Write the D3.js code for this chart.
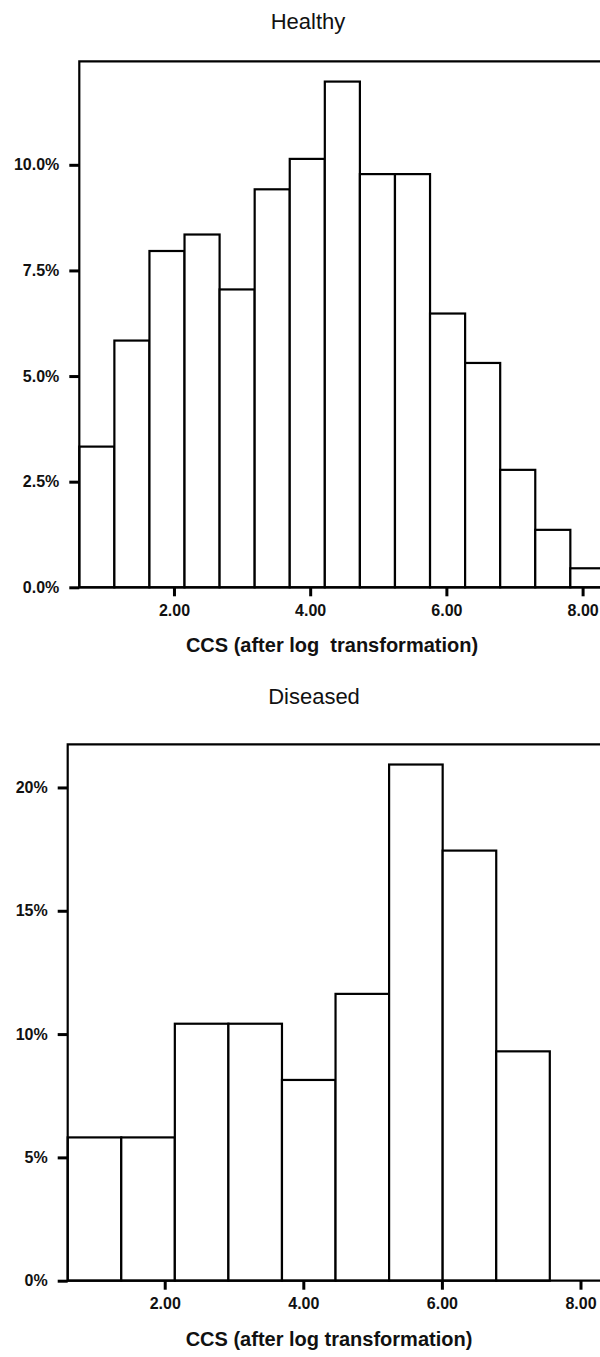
<!DOCTYPE html>
<html>
<head>
<meta charset="utf-8">
<script src="https://cdn.jsdelivr.net/npm/d3@7"></script>
<style>
  body { margin: 0; background: #fff; }
  svg { display: block; font-family: "Liberation Sans", Arial, sans-serif; }
  .tick text { font-size: 16px; font-weight: bold; fill: #111; }
  .tick line { stroke: #000; stroke-width: 3; }
  .title { font-size: 22px; fill: #111; }
  .xlabel { font-size: 20px; font-weight: bold; fill: #111; white-space: pre; }
</style>
</head>
<body>
<div id="chart"></div>
<script>
// bin edges (CCS after log transform) and percentage per bin
var healthyEdges = [0.61, 1.125, 1.64, 2.155, 2.67, 3.185, 3.70, 4.215, 4.73, 5.245, 5.76, 6.275, 6.79, 7.305, 7.82, 8.335];
var healthyPct = [3.33, 5.84, 7.96, 8.35, 7.05, 9.42, 10.14, 11.97, 9.78, 9.78, 6.48, 5.31, 2.78, 1.36, 0.45];
var healthyYTicks = [0, 2.5, 5, 7.5, 10];

var diseasedEdges = [0.60, 1.373, 2.146, 2.919, 3.692, 4.465, 5.238, 6.011, 6.784, 7.557];
var diseasedPct = [5.81, 5.81, 10.42, 10.42, 8.14, 11.63, 20.93, 17.44, 9.30];
var diseasedYTicks = [0, 5, 10, 15, 20];

var xTicks = [2, 4, 6, 8];

function drawHist(svg, o) {
    'use strict';
    var x = d3.scaleLinear().domain([o.edges[0], 8]).range([o.left, o.x8]);
    var y = d3.scaleLinear().domain([0, o.yMax]).range([o.bottom, o.top]);
    var right = 640;
    var g = svg.append('g');

    var bins = o.pct.map(function (v, i) {
        return { x0: o.edges[i], x1: o.edges[i + 1], v: v };
    });

    g.selectAll('rect.bar')
        .data(bins)
        .enter()
        .append('rect')
        .attr('class', 'bar')
        .attr('x', function (d) { return x(d.x0); })
        .attr('width', function (d) { return x(d.x1) - x(d.x0); })
        .attr('y', function (d) { return y(d.v); })
        .attr('height', function (d) { return y(0) - y(d.v); })
        .attr('fill', '#fff')
        .attr('stroke', '#000')
        .attr('stroke-width', 2.2);

    // frame: left side, top, and baseline
    g.append('path')
        .attr('d', 'M' + right + ',' + o.top + 'H' + o.left + 'V' + o.bottom + 'H' + right)
        .attr('fill', 'none')
        .attr('stroke', '#000')
        .attr('stroke-width', 2.2);

    var yAxis = d3.axisLeft(y)
        .tickValues(o.yTicks)
        .tickSize(10)
        .tickPadding(10)
        .tickFormat(o.yFmt);
    g.append('g')
        .attr('transform', 'translate(' + o.left + ',0)')
        .call(yAxis)
        .call(function (s) { s.select('.domain').remove(); });

    var xAxis = d3.axisBottom(x)
        .tickValues(xTicks)
        .tickSize(9)
        .tickPadding(8)
        .tickFormat(d3.format('.2f'));
    g.append('g')
        .attr('transform', 'translate(0,' + o.bottom + ')')
        .call(xAxis)
        .call(function (s) { s.select('.domain').remove(); });

    svg.append('text')
        .attr('class', 'title')
        .attr('x', o.titleX)
        .attr('y', o.titleY)
        .attr('text-anchor', 'middle')
        .text(o.title);

    svg.append('text')
        .attr('class', 'xlabel')
        .attr('x', o.labelX)
        .attr('y', o.labelY)
        .attr('text-anchor', 'middle')
        .text(o.xLabel);
}

function init() {
    'use strict';
    var svg = d3.select('#chart')
        .append('svg')
        .attr('width', 600)
        .attr('height', 1357);

    drawHist(svg, {
        edges: healthyEdges, pct: healthyPct, yTicks: healthyYTicks,
        yFmt: function (d) { return d3.format('.1f')(d) + '%'; },
        left: 79.3, x8: 582.6, top: 61.3, bottom: 587.3, yMax: 12.45,
        title: 'Healthy', titleX: 308, titleY: 29,
        xLabel: 'CCS (after log  transformation)', labelX: 332, labelY: 652
    });

    drawHist(svg, {
        edges: diseasedEdges, pct: diseasedPct, yTicks: diseasedYTicks,
        yFmt: function (d) { return d + '%'; },
        left: 67.7, x8: 580.5, top: 744.3, bottom: 1280.7, yMax: 21.75,
        title: 'Diseased', titleX: 314, titleY: 704,
        xLabel: 'CCS (after log transformation)', labelX: 329, labelY: 1346
    });
}

window.onload = init;
</script>
</body>
</html>
